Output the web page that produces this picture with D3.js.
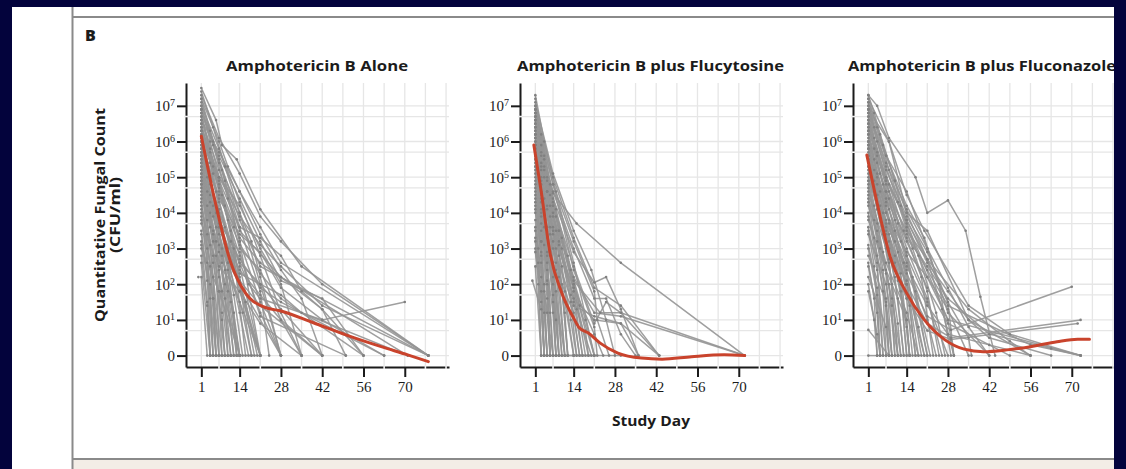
<!DOCTYPE html>
<html>
<head>
<meta charset="utf-8">
<script src="https://cdn.jsdelivr.net/npm/d3@7/dist/d3.min.js"></script>
<style>
  body { margin: 0; background: #03033c; }
  svg { display: block; }
</style>
</head>
<body>
<svg id="chart" width="1126" height="469"></svg>
<script>
// ---- data (levels are log10 of CFU/ml, 0 = no growth) ----
const panelTitles = ['Amphotericin B Alone', 'Amphotericin B plus Flucytosine', 'Amphotericin B plus Fluconazole'];
const xTickDays = [1, 14, 28, 42, 56, 70];
const xGridDays = [1, 7, 14, 21, 28, 35, 42, 49, 56, 63, 70, 77, 84];
const yTickLevels = [0, 1, 2, 3, 4, 5, 6, 7];
const yTickBases = ['0', '10', '10', '10', '10', '10', '10', '10'];
const yTickExponents = ['', '1', '2', '3', '4', '5', '6', '7'];
const yGridLevels = [0, 0.7, 1, 1.7, 2, 2.7, 3, 3.7, 4, 4.7, 5, 5.7, 6, 6.7, 7];

const aloneCounts = [
  [[1,7.5],[6,6.6],[8,5.9],[13,5.5],[21,4.1],[35,2.5],[78,0]],
  [[1,7.4],[5,6.4],[9,5.3],[14,4.0],[21,2.0],[28,0]],
  [[1,7.3],[7,6.1],[14,5.1],[21,3.9],[28,3.2],[42,2.0],[78,0]],
  [[1,7.2],[4,6.3],[8,5.2],[14,3.2],[21,0]],
  [[1,7.2],[7,6.0],[10,5.3],[14,4.6],[21,3.4],[28,2.4],[35,1.6],[42,0]],
  [[1,7.1],[5,6.0],[9,4.9],[14,3.6],[21,1.8],[24,0]],
  [[1,7.0],[7,5.8],[14,4.3],[21,2.8],[28,1.2],[35,0]],
  [[1,7.0],[4,6.0],[7,5.0],[11,3.5],[16,0]],
  [[1,6.9],[5,5.9],[10,4.4],[14,3.2],[21,1.5],[28,0]],
  [[1,6.9],[7,5.4],[14,4.0],[18,3.2],[21,2.2],[28,0]],
  [[1,6.9],[7,5.6],[14,4.4],[21,3.2],[28,2.1],[42,1.6],[56,0]],
  [[1,6.8],[7,5.5],[14,3.8],[21,2.5],[78,0]],
  [[1,6.8],[4,5.7],[8,4.5],[12,3.0],[18,0]],
  [[1,6.7],[4,5.8],[9,4.2],[14,2.5],[21,0]],
  [[1,6.7],[5,5.3],[10,3.8],[14,2.2],[19,0]],
  [[1,6.6],[7,5.7],[14,4.6],[21,3.6],[28,2.6],[78,0]],
  [[1,6.6],[7,5.2],[14,3.5],[28,2.2],[71,0]],
  [[1,6.5],[7,4.6],[14,2.8],[21,1.2],[28,0]],
  [[1,6.5],[4,5.4],[7,4.1],[10,2.6],[13,0]],
  [[1,6.4],[7,5.0],[14,3.9],[21,3.1],[28,2.5],[42,1.4],[78,0]],
  [[1,6.4],[5,5.1],[9,3.6],[14,1.8],[21,0]],
  [[1,6.3],[7,4.8],[14,3.3],[21,2.6],[28,2.2],[42,1.3],[50,0]],
  [[1,6.3],[7,5.0],[14,4.2],[21,3.0],[28,2.0],[35,0]],
  [[1,6.3],[3,5.4],[6,4.0],[9,2.4],[12,0]],
  [[1,6.2],[4,4.8],[8,3.0],[14,0]],
  [[1,6.2],[7,4.7],[12,3.6],[14,3.0],[21,2.4],[28,1.0],[42,0]],
  [[1,6.1],[7,4.3],[14,2.0],[21,0]],
  [[1,6.1],[4,4.9],[8,3.4],[12,1.7],[15,0]],
  [[1,6.0],[6,4.6],[11,3.2],[17,2.0],[21,1.6],[42,1.0],[70,1.5]],
  [[1,6.0],[7,4.9],[14,3.6],[21,3.3],[28,2.8],[35,1.8],[42,1.3],[56,0]],
  [[1,6.0],[3,5.0],[6,3.6],[9,1.6],[10,0]],
  [[1,5.9],[4,4.5],[8,2.6],[11,0],[14,0]],
  [[1,5.9],[5,4.5],[10,3.0],[16,1.5],[20,0]],
  [[1,5.8],[7,3.9],[14,1.2],[17,0]],
  [[1,5.8],[7,4.4],[14,3.4],[21,2.9],[28,1.9],[42,1.0],[63,0]],
  [[1,5.7],[5,4.2],[10,2.4],[14,0]],
  [[1,5.7],[3,4.6],[6,3.2],[8,1.2],[9,0]],
  [[1,5.6],[7,4.5],[14,3.1],[21,2.3],[28,1.6],[56,0]],
  [[1,5.6],[7,4.0],[14,2.6],[21,2.0],[28,1.7],[35,1.2],[71,0]],
  [[1,5.6],[4,4.3],[8,2.8],[12,1.2],[13,0]],
  [[1,5.5],[4,4.0],[7,2.4],[10,0],[14,0]],
  [[1,5.5],[7,4.1],[14,2.3],[21,2.0],[28,1.3],[42,0]],
  [[1,5.4],[7,3.6],[14,2.1],[21,1.4],[42,0]],
  [[1,5.4],[3,4.2],[6,2.8],[7,0]],
  [[1,5.3],[5,3.5],[8,1.8],[11,0]],
  [[1,5.3],[5,3.9],[10,2.6],[15,1.2],[18,0]],
  [[1,5.2],[7,3.4],[11,1.5],[14,0],[21,0]],
  [[1,5.2],[7,3.7],[14,2.9],[21,1.1],[50,0]],
  [[1,5.1],[4,3.6],[7,1.8],[8,0]],
  [[1,5.1],[3,3.8],[5,2.2],[6,0]],
  [[1,5.0],[7,3.8],[14,2.7],[21,1.9],[28,1.5],[63,0]],
  [[1,5.0],[5,3.4],[9,2.0],[12,0]],
  [[1,4.9],[4,3.1],[7,0],[10,0]],
  [[1,4.9],[7,3.6],[14,2.4],[21,1.7],[28,1.0],[35,0]],
  [[1,4.8],[7,2.9],[14,1.5],[21,0]],
  [[1,4.8],[3,3.4],[5,1.6],[6,0]],
  [[1,4.7],[5,3.2],[10,1.8],[13,0]],
  [[1,4.6],[5,2.8],[9,0]],
  [[1,4.5],[7,3.1],[14,2.0],[28,0]],
  [[1,4.4],[3,3.0],[5,0]],
  [[1,4.3],[4,2.5],[6,0],[11,0]],
  [[1,4.2],[5,2.6],[8,1.0],[9,0]],
  [[1,4.1],[7,2.2],[14,0]],
  [[1,4.0],[3,2.6],[4,0]],
  [[1,3.9],[4,2.0],[5,0]],
  [[1,3.8],[5,2.2],[8,0]],
  [[1,3.7],[7,2.5],[14,1.8],[21,0.9],[35,0]],
  [[1,3.5],[4,1.6],[6,0]],
  [[1,3.4],[3,2.1],[5,0]],
  [[1,3.2],[3,1.5],[4,0],[7,0]],
  [[1,3.1],[5,1.6],[7,0]],
  [[1,3.0],[7,1.8],[14,0]],
  [[1,2.8],[3,1.4],[4,0]],
  [[1,2.6],[4,0]],
  [[1,2.2],[3,0]],
  [[0,2.2]]
];

const flucytosineCounts = [
  [[1,7.3],[4,6.0],[8,4.6],[14,2.6],[21,0]],
  [[1,7.2],[3,6.2],[6,4.8],[10,3.3],[14,1.8],[17,0]],
  [[1,7.1],[7,5.1],[14,3.5],[20,2.4],[25,1.0],[28,0]],
  [[1,7.0],[4,5.6],[7,4.3],[14,2.0],[18,0]],
  [[1,7.0],[3,5.9],[6,4.5],[9,3.2],[13,1.5],[15,0]],
  [[1,6.9],[7,4.8],[14,2.4],[21,0.8],[22,0]],
  [[1,6.9],[7,5.0],[14,3.3],[21,1.9],[30,1.4],[43,0]],
  [[1,6.9],[3,5.7],[6,4.2],[9,2.8],[12,0]],
  [[1,6.8],[4,5.2],[8,3.5],[11,1.8],[14,0]],
  [[1,6.8],[5,5.0],[9,3.5],[14,1.9],[19,0]],
  [[1,6.8],[4,5.5],[8,4.1],[12,2.8],[16,1.4],[21,0]],
  [[1,6.7],[7,4.55],[15,3.7],[30,2.6],[72,0]],
  [[1,6.7],[7,4.8],[14,3.2],[21,1.8],[22,1.0],[26,0]],
  [[1,6.7],[3,5.6],[5,4.6],[8,3.0],[11,1.2],[12,0]],
  [[1,6.6],[4,5.0],[7,3.5],[10,2.0],[12,0]],
  [[1,6.6],[3,5.4],[6,3.9],[9,2.2],[11,0]],
  [[1,6.6],[4,5.3],[8,3.9],[13,2.4],[18,1.0],[21,0]],
  [[1,6.5],[7,4.4],[14,2.9],[21,2.05],[25,2.2],[30,1.3],[36,0]],
  [[1,6.5],[5,4.6],[10,3.0],[15,1.3],[20,0]],
  [[1,6.4],[3,5.3],[6,3.6],[9,0],[14,0]],
  [[1,6.4],[3,5.2],[5,4.1],[8,2.4],[10,0]],
  [[1,6.4],[5,4.9],[9,3.5],[14,2.0],[18,0.7],[19,0]],
  [[1,6.3],[7,4.2],[14,2.1],[23,1.2],[30,1.2],[72,0]],
  [[1,6.3],[7,4.6],[14,3.0],[21,1.6],[25,1.6],[30,0.6],[35,0]],
  [[1,6.2],[4,4.4],[8,2.6],[11,0]],
  [[1,6.2],[3,5.0],[6,3.4],[8,1.8],[9,0]],
  [[1,6.2],[5,4.6],[9,3.1],[13,1.7],[16,0]],
  [[1,6.1],[7,4.0],[14,1.5],[17,0]],
  [[1,6.1],[3,4.9],[5,3.6],[7,2.0],[8,0]],
  [[1,6.0],[3,4.8],[6,2.8],[8,0]],
  [[1,6.0],[5,4.2],[10,2.5],[13,1.0],[15,0]],
  [[1,5.9],[7,3.9],[14,2.2],[21,1.2],[30,1.1],[72,0]],
  [[1,5.9],[7,4.2],[14,2.5],[21,0.9],[25,1.5],[30,1.2],[43,0]],
  [[1,5.9],[3,4.6],[5,3.3],[7,1.5],[8,0]],
  [[1,5.8],[4,4.1],[7,2.6],[10,0]],
  [[1,5.8],[3,4.5],[6,2.9],[8,1.0],[9,0]],
  [[1,5.7],[7,3.6],[14,1.6],[21,1.0],[30,0.9],[36,0]],
  [[1,5.6],[3,4.4],[5,2.8],[7,0],[14,0]],
  [[1,5.6],[3,4.3],[5,2.9],[6,1.2],[7,0]],
  [[1,5.5],[7,3.4],[14,1.9],[21,0.6],[24,0]],
  [[1,5.5],[3,4.1],[5,2.6],[6,0]],
  [[1,5.4],[4,3.6],[7,1.7],[9,0]],
  [[1,5.3],[7,3.2],[11,1.5],[14,0],[21,0]],
  [[1,5.3],[3,4.0],[5,2.4],[6,0]],
  [[1,5.2],[3,3.9],[5,2.0],[6,0]],
  [[1,5.1],[3,3.7],[5,2.1],[6,0]],
  [[1,5.0],[7,3.0],[14,1.4],[21,1.1],[30,0.9],[43,0]],
  [[1,4.9],[3,3.5],[5,1.6],[6,0]],
  [[1,4.8],[4,3.1],[7,1.2],[8,0]],
  [[1,4.7],[3,3.2],[4,2.0],[5,0]],
  [[1,4.6],[3,3.2],[5,0]],
  [[1,4.5],[3,2.9],[4,0]],
  [[1,4.4],[7,2.6],[14,1.2],[16,0],[30,0]],
  [[1,4.3],[3,2.8],[5,0]],
  [[1,4.2],[3,2.6],[5,1.2],[6,0]],
  [[1,4.1],[2,3.0],[4,0]],
  [[1,4.0],[7,2.2],[11,0]],
  [[1,3.8],[3,2.2],[4,0]],
  [[1,3.6],[2,2.6],[3,0]],
  [[1,3.5],[4,1.8],[7,0]],
  [[1,3.3],[3,1.8],[4,0]],
  [[1,3.2],[3,1.5],[4,0]],
  [[1,3.0],[2,2.0],[3,0]],
  [[1,2.9],[4,1.2],[5,0]],
  [[1,2.5],[3,0]],
  [[0,2.1],[3,1.3],[4,0]]
];

const fluconazoleCounts = [
  [[1,7.3],[4,7.0],[8,6.1],[17,5.0],[21,4.0],[28,4.35],[34,3.5],[39,1.65],[44,0]],
  [[1,7.3],[3,6.8],[6,5.9],[10,4.9],[14,4.0],[21,2.7],[26,1.3],[30,0]],
  [[1,7.2],[8,6.0],[14,4.0],[21,3.5],[35,1.0],[56,0]],
  [[1,7.2],[4,6.4],[8,5.2],[12,4.2],[18,2.8],[24,1.2],[27,0]],
  [[1,7.1],[5,6.2],[10,4.9],[14,3.6],[21,2.2],[28,1.0],[30,0]],
  [[1,7.1],[3,6.4],[7,5.3],[11,4.3],[16,3.0],[21,1.8],[25,0]],
  [[1,7.0],[7,5.6],[14,4.2],[20,3.3],[25,2.0],[29,0]],
  [[1,7.0],[4,6.0],[8,4.8],[13,3.5],[19,2.2],[23,0]],
  [[1,6.9],[8,6.0],[14,4.5],[20,3.5],[35,1.4],[49,0.6],[73,0]],
  [[1,6.9],[3,6.1],[7,4.9],[11,3.7],[16,2.2],[21,0]],
  [[1,6.9],[7,5.4],[14,4.1],[21,3.0],[28,1.9],[35,0.8],[42,0]],
  [[1,6.8],[7,5.2],[14,3.9],[21,2.9],[28,1.5],[30,0]],
  [[1,6.8],[7,5.6],[14,4.6],[21,3.0],[28,1.2],[42,0]],
  [[1,6.7],[4,5.6],[8,4.6],[14,3.0],[21,1.6],[26,0]],
  [[1,6.7],[4,5.7],[8,4.4],[12,3.2],[17,1.8],[22,0]],
  [[1,6.6],[7,5.0],[14,3.7],[28,1.0],[73,0]],
  [[1,6.6],[3,5.8],[6,4.8],[10,3.5],[14,2.1],[18,0]],
  [[1,6.5],[5,5.1],[10,3.8],[14,2.8],[21,0]],
  [[1,6.5],[4,5.4],[8,4.1],[13,2.6],[18,0.8],[20,0]],
  [[1,6.4],[7,4.8],[14,3.4],[21,2.4],[28,1.4],[56,0.3],[73,0]],
  [[1,6.4],[7,4.9],[14,3.8],[21,2.6],[28,1.8],[35,1.0],[42,0.5],[63,0]],
  [[1,6.3],[4,5.0],[8,3.8],[14,2.4],[19,0]],
  [[1,6.3],[3,5.5],[7,4.2],[11,2.9],[15,1.4],[17,0]],
  [[1,6.3],[7,5.0],[14,3.8],[21,2.7],[28,1.5],[35,0.5],[36,0]],
  [[1,6.2],[7,4.6],[14,3.2],[21,1.9],[28,0.9],[49,0]],
  [[1,6.2],[4,5.1],[8,3.7],[12,2.3],[15,0]],
  [[1,6.1],[5,4.6],[10,3.2],[14,2.0],[17,0]],
  [[1,6.0],[7,4.3],[14,2.8],[21,1.5],[28,0]],
  [[1,6.0],[7,4.6],[14,3.5],[21,2.7],[35,1.3],[49,0.4],[56,0]],
  [[1,6.0],[3,5.2],[6,4.0],[10,2.6],[14,1.0],[15,0]],
  [[1,5.9],[4,4.5],[8,3.2],[12,1.8],[14,0]],
  [[1,5.9],[4,4.8],[8,3.4],[12,2.0],[14,0]],
  [[1,5.8],[7,4.0],[14,2.6],[21,1.0],[24,0]],
  [[1,5.8],[3,4.9],[7,3.5],[11,2.1],[14,0.8],[15,0]],
  [[1,5.7],[5,4.2],[10,2.8],[14,1.6],[16,0]],
  [[1,5.6],[7,3.8],[14,2.3],[21,1.1],[29,0.72],[70,1.93]],
  [[1,5.6],[7,4.4],[14,3.3],[21,2.5],[28,1.6],[42,0.6],[63,0.2],[73,0]],
  [[1,5.6],[4,4.5],[8,3.0],[11,1.6],[13,0]],
  [[1,5.5],[4,4.1],[8,2.7],[11,0]],
  [[1,5.5],[3,4.6],[6,3.4],[9,2.0],[11,0]],
  [[1,5.4],[7,3.6],[14,2.0],[20,0]],
  [[1,5.3],[7,4.0],[14,2.9],[21,2.2],[28,1.3],[35,0]],
  [[1,5.3],[4,4.1],[8,2.6],[11,0.9],[12,0]],
  [[1,5.2],[5,3.8],[10,2.2],[13,0]],
  [[1,5.1],[3,4.2],[6,2.9],[9,1.4],[10,0]],
  [[1,5.0],[7,3.4],[14,2.0],[21,0.9],[29,0.5],[73,1.0]],
  [[1,4.9],[7,3.7],[14,2.5],[21,1.4],[28,0.6],[42,0.3],[56,0]],
  [[1,4.9],[4,3.7],[7,2.3],[9,0]],
  [[1,4.8],[4,3.5],[8,2.0],[10,0]],
  [[1,4.7],[3,3.8],[6,2.4],[8,0]],
  [[1,4.6],[7,3.0],[14,1.6],[21,0.7],[29,0.45],[72,0.9]],
  [[1,4.5],[4,3.2],[7,1.6],[8,0]],
  [[1,4.4],[5,3.0],[9,1.6],[12,0]],
  [[1,4.3],[3,3.3],[6,1.8],[7,0]],
  [[1,4.2],[7,2.6],[14,1.2],[18,0]],
  [[1,4.0],[4,2.8],[7,1.4],[9,0]],
  [[1,3.9],[4,2.6],[6,0]],
  [[1,3.8],[7,2.4],[14,1.0],[15,0]],
  [[1,3.6],[4,2.4],[7,0]],
  [[1,3.5],[3,2.5],[5,0]],
  [[1,3.4],[7,2.0],[11,0]],
  [[1,3.1],[4,1.9],[6,0]],
  [[1,3.0],[4,1.7],[5,0]],
  [[1,2.8],[7,1.5],[9,0]],
  [[1,2.6],[3,1.6],[4,0]],
  [[1,2.5],[4,1.2],[5,0]],
  [[1,2.2],[7,0.8],[8,0]],
  [[1,2.0],[3,1.0],[4,0]],
  [[1,1.8],[4,0.6],[5,0]],
  [[1,0.72],[8,0]],
  [[1,0],[4,0]]
];

// smoothed mean curves
const aloneFit = [[1,6.15],[6,4.2],[11,2.6],[16,1.75],[22,1.37],[28,1.25],[39,0.92],[50,0.58],[62,0.25],[71,0.02],[78,-0.17]];
const flucytosineFit = [[0.5,5.9],[3,4.6],[6,2.87],[10,1.75],[14,1.05],[16,0.77],[19,0.63],[23,0.35],[29,0.07],[37,-0.07],[44,-0.1],[54,-0.03],[65,0.02],[72,0]];
const fluconazoleFit = [[0.5,5.62],[4,4.27],[8.4,2.77],[14,1.75],[20,1.0],[27,0.44],[33.5,0.18],[40,0.11],[48,0.16],[56,0.25],[65,0.39],[72,0.46],[76,0.46]];

const panelCounts = [aloneCounts, flucytosineCounts, fluconazoleCounts];
const panelFits = [aloneFit, flucytosineFit, fluconazoleFit];

// ---- layout ----
const W = 1126, H = 469;
const panelLeft = [186, 520, 853];
const plotW = 263, plotTop = 83, plotBottom = 367;
const gray = '#959595', red = '#c9432c', ink = '#1b1b1b';
const sans = 'Open Sans, sans-serif';

const svg = d3.select('#chart');

// page frame
svg.append('rect').attr('width', W).attr('height', H).attr('fill', '#03033c');
svg.append('rect').attr('x', 12).attr('y', 7).attr('width', 1102).attr('height', H - 7).attr('fill', '#ffffff');
svg.append('rect').attr('x', 73).attr('y', 459).attr('width', 1041).attr('height', 10).attr('fill', '#f3ede6');
svg.append('line').attr('x1', 72.5).attr('x2', 72.5).attr('y1', 7).attr('y2', H)
  .attr('stroke', '#8a8a8a').attr('stroke-width', 2);
svg.append('line').attr('x1', 72).attr('x2', 1114).attr('y1', 17).attr('y2', 17)
  .attr('stroke', '#8a8a8a').attr('stroke-width', 2);
svg.append('line').attr('x1', 72).attr('x2', 1114).attr('y1', 459).attr('y2', 459)
  .attr('stroke', '#8a8a8a').attr('stroke-width', 2);

svg.append('text').attr('x', 85).attr('y', 41).text('B')
  .style('font-family', sans).style('font-weight', 800).style('font-size', '16px').attr('fill', ink);

// y axis title
const yTitle = svg.append('g').attr('transform', 'translate(0,215) rotate(-90)')
  .style('font-family', sans).style('font-weight', 700).attr('fill', ink);
yTitle.append('text').attr('x', 0).attr('y', 105).attr('text-anchor', 'middle')
  .attr('textLength', 214).attr('lengthAdjust', 'spacingAndGlyphs')
  .style('font-size', '14px').text('Quantitative Fungal Count');
yTitle.append('text').attr('x', 0).attr('y', 120).attr('text-anchor', 'middle')
  .attr('textLength', 76).attr('lengthAdjust', 'spacingAndGlyphs')
  .style('font-size', '14px').text('(CFU/ml)');

svg.append('text').attr('x', 651).attr('y', 426).attr('text-anchor', 'middle')
  .attr('textLength', 78).attr('lengthAdjust', 'spacingAndGlyphs')
  .style('font-family', sans).style('font-weight', 700).style('font-size', '14px')
  .attr('fill', ink).text('Study Day');

const titleLengths = [182, 267, 268];

const y = d3.scaleLinear().domain([-0.32, 7.64]).range([plotBottom, plotTop]);

panelTitles.forEach((title, p) => {
  const left = panelLeft[p];
  const x = d3.scaleLinear().domain([-4.2, 85]).range([left, left + plotW]);
  const g = svg.append('g');

  // grid
  g.append('g').selectAll('line').data(xGridDays).join('line')
    .attr('x1', d => x(d)).attr('x2', d => x(d)).attr('y1', plotTop).attr('y2', plotBottom)
    .attr('stroke', '#e6e6e6').attr('stroke-width', 1.3);
  g.append('g').selectAll('line').data(yGridLevels).join('line')
    .attr('x1', left).attr('x2', left + plotW).attr('y1', d => y(d)).attr('y2', d => y(d))
    .attr('stroke', '#e6e6e6').attr('stroke-width', 1.3);

  // axes
  const yAxis = d3.axisLeft(y).tickValues(yTickLevels).tickSize(9).tickSizeOuter(0).tickPadding(2).tickFormat('');
  const ya = g.append('g').attr('transform', `translate(${left},0)`).call(yAxis);
  ya.selectAll('.tick text').each(function (d, i) {
    const t = d3.select(this);
    t.append('tspan').text(yTickBases[i]);
    if (yTickExponents[i]) {
      t.append('tspan').attr('dy', -5).style('font-size', '10px').text(yTickExponents[i]);
    }
  });
  const xAxis = d3.axisBottom(x).tickValues(xTickDays).tickSize(10).tickSizeOuter(0).tickPadding(4).tickFormat(d3.format('d'));
  const xa = g.append('g').attr('transform', `translate(0,${plotBottom})`).call(xAxis);

  [ya, xa].forEach(a => {
    a.select('.domain').attr('stroke', ink).attr('stroke-width', 2);
    a.selectAll('.tick line').attr('stroke', ink).attr('stroke-width', 2);
    a.selectAll('.tick text').attr('fill', ink)
      .style('font-family', 'Liberation Serif, serif').style('font-size', '15px');
  });

  // small breaks in the axes where the minor grid lines cross
  g.append('g').selectAll('line').data(yGridLevels.filter(d => !yTickLevels.includes(d))).join('line')
    .attr('x1', left - 2).attr('x2', left + 2).attr('y1', d => y(d)).attr('y2', d => y(d))
    .attr('stroke', '#eeeeee').attr('stroke-width', 1.6);
  g.append('g').selectAll('line').data(xGridDays.filter(d => !xTickDays.includes(d))).join('line')
    .attr('x1', d => x(d)).attr('x2', d => x(d)).attr('y1', plotBottom - 2).attr('y2', plotBottom + 2)
    .attr('stroke', '#eeeeee').attr('stroke-width', 1.6);

  // patient trajectories
  const line = d3.line().x(d => x(d[0])).y(d => y(d[1]));
  const counts = panelCounts[p];
  g.append('g').selectAll('path').data(counts.filter(c => c.length > 1)).join('path')
    .attr('d', line).attr('fill', 'none').attr('stroke', gray).attr('stroke-width', 1.5).attr('stroke-opacity', 0.9);
  g.append('g').selectAll('circle').data(counts.flat()).join('circle')
    .attr('cx', d => x(d[0])).attr('cy', d => y(d[1])).attr('r', 1.3).attr('fill', '#808080');

  // smoothed mean
  g.append('path').datum(panelFits[p])
    .attr('d', d3.line().x(d => x(d[0])).y(d => y(d[1])).curve(d3.curveMonotoneX))
    .attr('fill', 'none').attr('stroke', red).attr('stroke-width', 3).attr('stroke-linecap', 'round');

  // title
  const titleCenter = [317, 650.5, 982][p];
  g.append('text').attr('x', titleCenter).attr('y', 71).attr('text-anchor', 'middle')
    .attr('textLength', titleLengths[p]).attr('lengthAdjust', 'spacingAndGlyphs')
    .style('font-family', sans).style('font-weight', 700).style('font-size', '15px')
    .attr('fill', ink).text(title);
});

// right edge of the page clips the last panel
svg.append('rect').attr('x', 1114).attr('y', 0).attr('width', W - 1114).attr('height', H).attr('fill', '#03033c');
svg.append('rect').attr('x', 0).attr('y', 0).attr('width', W).attr('height', 7).attr('fill', '#03033c');
</script>
</body>
</html>
